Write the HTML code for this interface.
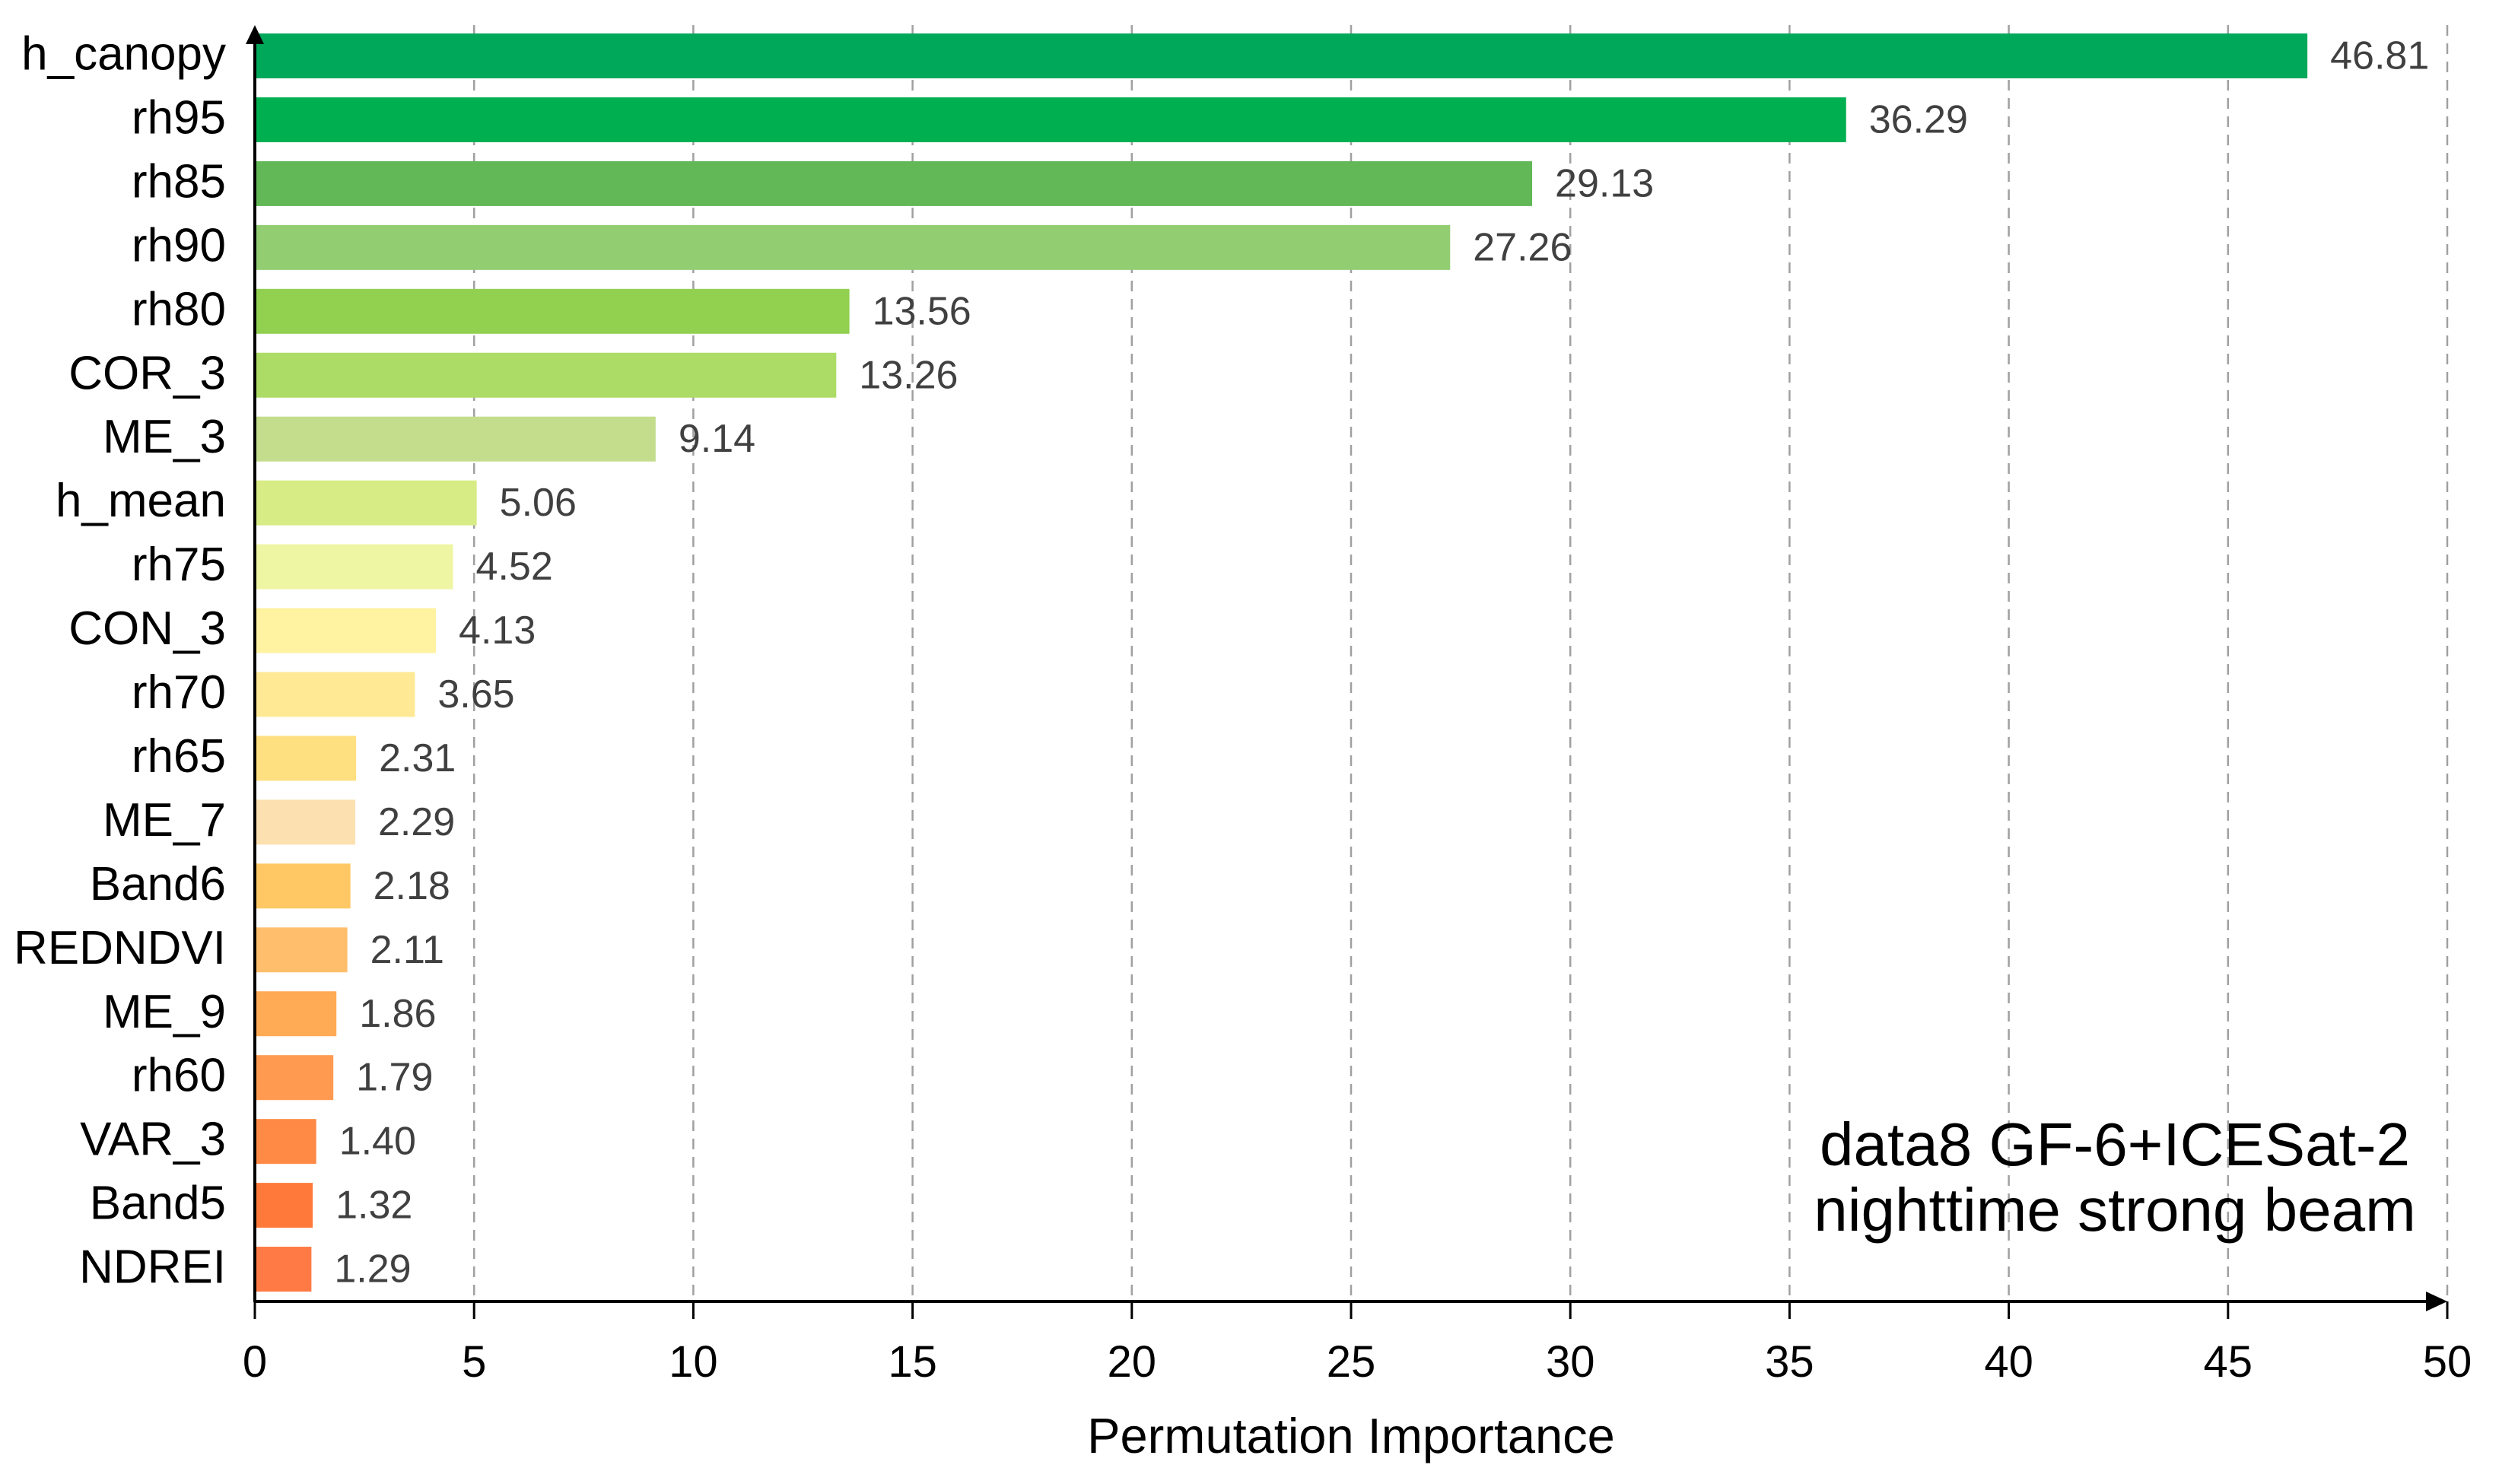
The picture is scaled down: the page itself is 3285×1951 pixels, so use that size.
<!DOCTYPE html>
<html><head><meta charset="utf-8">
<style>
html,body{margin:0;padding:0;background:#fff;}
svg{display:block;font-family:"Liberation Sans",sans-serif;}
</style></head>
<body>
<svg id="chart" width="3285" height="1951" viewBox="0 0 3285 1951" xmlns="http://www.w3.org/2000/svg">
<rect width="3285" height="1951" fill="#fff"/>
<g id="grid"></g>
<g id="bars"></g>
<g id="axes"></g>
<text x="2780" y="1532" font-size="80" text-anchor="middle" fill="#000">data8 GF-6+ICESat-2</text>
<text x="2780" y="1618" font-size="80" text-anchor="middle" fill="#000">nighttime strong beam</text>
<text x="1776" y="1910" font-size="65" text-anchor="middle" fill="#000">Permutation Importance</text>
</svg>
<script>
const categories = ["h_canopy","rh95","rh85","rh90","rh80","COR_3","ME_3","h_mean","rh75","CON_3","rh70","rh65","ME_7","Band6","REDNDVI","ME_9","rh60","VAR_3","Band5","NDREI"];
const values = [46.81,36.29,29.13,27.26,13.56,13.26,9.14,5.06,4.52,4.13,3.65,2.31,2.29,2.18,2.11,1.86,1.79,1.40,1.32,1.29];
const colors = ["#00a85a","#00b050","#62b857","#92cd72","#92d050","#acdc66","#c3dd8c","#d7ec85","#eef5a3","#fff2a0","#ffe994","#ffe080","#fde0b0","#ffc864","#ffbe6c","#ffaa55","#ff9a50","#ff8a45","#ff7a3a","#ff7a45"];
const xTicks = [0,5,10,15,20,25,30,35,40,45,50];

const NS="http://www.w3.org/2000/svg";
const x0=335, x1=3217, xMax=50, yTop=73.5, pitch=83.95, barH=59, axisY=1711, gridTop=33;
const xs = v => x0 + (v/xMax)*(x1-x0);
const yc = i => yTop + i*pitch;
function mk(tag, attrs){const e=document.createElementNS(NS,tag);for(const k in attrs)e.setAttribute(k,attrs[k]);return e;}

const grid=document.getElementById('grid');
xTicks.forEach(t=>{
  if(t===0) return;
  const l=mk('line',{x1:xs(t),x2:xs(t),y1:gridTop,y2:axisY,stroke:'#a0a0a0','stroke-width':2.5,'stroke-dasharray':'14 10'});
  
  
  grid.appendChild(l);
});

const bars=document.getElementById('bars');
categories.forEach((c,i)=>{
  const r=mk('rect',{x:x0,y:yc(i)-barH/2,width:xs(values[i])-x0,height:barH,fill:colors[i]});
  
  
  bars.appendChild(r);
  const v=mk('text',{x:xs(values[i])+30,y:yc(i)+17,'font-size':52,fill:'#404040'});
  v.textContent=values[i].toFixed(2);
  
  
  bars.appendChild(v);
  const lb=mk('text',{x:297,y:yc(i)+18,'font-size':62,'text-anchor':'end',fill:'#000'});
  lb.textContent=c;
  
  
  bars.appendChild(lb);
});

const axes=document.getElementById('axes');
const ya=mk('line',{x1:x0,x2:x0,y1:axisY+1,y2:55,stroke:'#000','stroke-width':4});


axes.appendChild(ya);
const yarr=mk('polygon',{points:`${x0},33 ${x0-12},58 ${x0+12},58`,fill:'#000'});


axes.appendChild(yarr);
const xa=mk('line',{x1:x0-1,x2:x1-20,y1:axisY,y2:axisY,stroke:'#000','stroke-width':4});


axes.appendChild(xa);
const xarr=mk('polygon',{points:`${x1},${axisY} ${x1-28},${axisY-13} ${x1-28},${axisY+13}`,fill:'#000'});


axes.appendChild(xarr);
xTicks.forEach(t=>{
  const tk=mk('line',{x1:xs(t),x2:xs(t),y1:axisY,y2:axisY+23,stroke:'#000','stroke-width':3});
  
  
  axes.appendChild(tk);
  const tl=mk('text',{x:xs(t),y:1810,'font-size':58,'text-anchor':'middle',fill:'#000'});
  tl.textContent=t;
  
  
  axes.appendChild(tl);
});
</script>
</body></html>
